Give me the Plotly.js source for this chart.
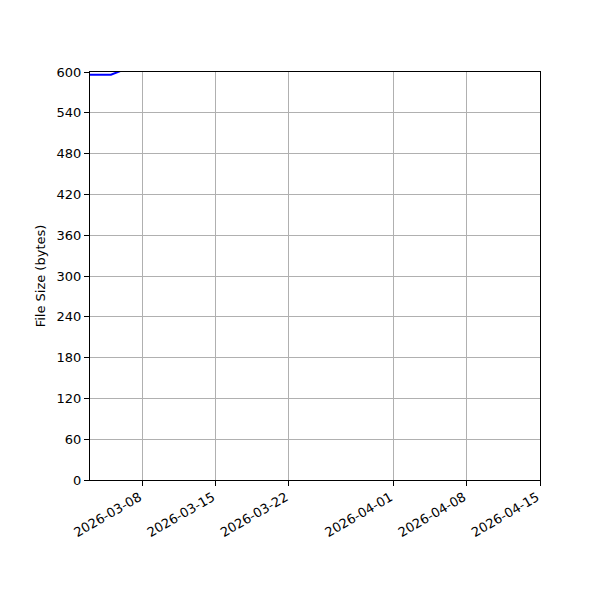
<!DOCTYPE html>
<html>
<head>
<meta charset="utf-8">
<script src="https://cdn.plot.ly/plotly-3.0.1.min.js"></script>
<style>
  html, body { margin: 0; padding: 0; background: #fff; }
  #chart { width: 600px; height: 600px; }
</style>
</head>
<body>
<div id="chart"></div>
<script>
var dates = ['2026-03-03', '2026-03-04', '2026-03-05', '2026-03-06'];
var sizes = [596, 596, 596, 602];

var xTicks = ['2026-03-08', '2026-03-15', '2026-03-22', '2026-04-01', '2026-04-08', '2026-04-15'];
var yTicks = [0, 60, 120, 180, 240, 300, 360, 420, 480, 540, 600];

var trace = {
  x: dates,
  y: sizes,
  mode: 'lines',
  type: 'scatter',
  line: {color: '#0000ff', width: 2},
  showlegend: false
};

var layout = {
  width: 600,
  height: 600,
  margin: {l: 90, r: 60, t: 72, b: 120},
  paper_bgcolor: '#fff',
  plot_bgcolor: '#fff',
  font: {family: 'DejaVu Sans', size: 13, color: '#000'},
  xaxis: {
    type: 'date',
    range: ['2026-03-03', '2026-04-15'],
    tickvals: xTicks,
    ticktext: xTicks,
    tickangle: -30,
    ticklabelshift: -3,
    ticklabelstandoff: -1,
    showgrid: true,
    gridcolor: '#b0b0b0',
    gridwidth: 1,
    showline: true,
    linecolor: '#000',
    linewidth: 1,
    mirror: true,
    ticks: 'outside',
    ticklen: 5,
    tickcolor: '#000',
    zeroline: false
  },
  yaxis: {
    range: [0, 600],
    tickvals: yTicks,
    showgrid: true,
    gridcolor: '#b0b0b0',
    gridwidth: 1,
    showline: true,
    linecolor: '#000',
    linewidth: 1,
    mirror: true,
    ticks: 'outside',
    ticklen: 5,
    tickcolor: '#000',
    zeroline: false,
    title: {text: 'File Size (bytes)', font: {size: 13}, standoff: 8}
  }
};

Plotly.newPlot('chart', [trace], layout, {displayModeBar: false});
</script>
</body>
</html>
